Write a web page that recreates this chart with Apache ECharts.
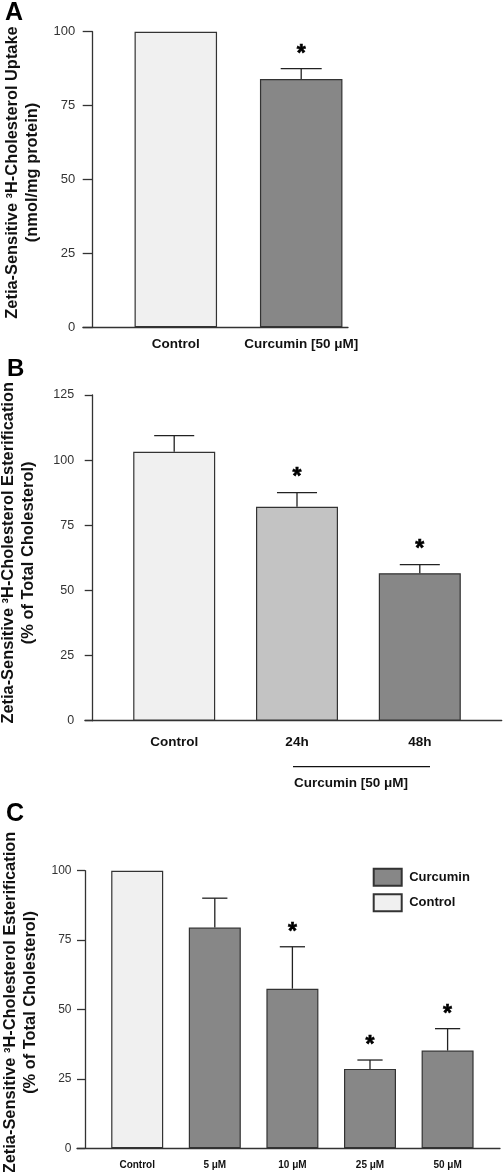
<!DOCTYPE html>
<html><head><meta charset="utf-8">
<script src="https://cdn.jsdelivr.net/npm/echarts@6/dist/echarts.min.js"></script>
<style>html,body{margin:0;padding:0;background:#fff}#c{width:504px;height:1172px}</style>
</head><body><div id="c"></div>
<script>
// ---------- data ----------
const catsA = ['Control', 'Curcumin [50 μM]'];
const meanA = [100, 84.0];
const errTopA = [null, 87.5];
const sigA = [0, 1];
const yTicksA = [0, 25, 50, 75, 100];

const catsB = ['Control', '24h', '48h'];
const meanB = [103.2, 82.1, 56.6];
const errTopB = [109.4, 87.5, 59.9];
const sigB = [0, 1, 1];
const yTicksB = [0, 25, 50, 75, 100, 125];

const catsC = ['Control', '5 μM', '10 μM', '25 μM', '50 μM'];
const controlC = [100, null, null, null, null];
const curcuminC = [null, 79.5, 57.5, 28.6, 35.2];
const errTopC = [null, 90.1, 72.6, 31.8, 43.1];
const sigC = [0, 0, 1, 1, 1];
const yTicksC = [0, 25, 50, 75, 100];

const titleA = 'Zetia-Sensitive ³H-Cholesterol Uptake\n(nmol/mg protein)';
const titleB = 'Zetia-Sensitive ³H-Cholesterol Esterification\n(% of Total Cholesterol)';
const titleC = 'Zetia-Sensitive ³H-Cholesterol Esterification\n(% of Total Cholesterol)';

// ---------- styles ----------
const FONT = '"Liberation Sans", Arial, Helvetica, sans-serif';
const LIGHT = '#f0f0f0', MID = '#c3c3c3', DARK = '#878787', EDGE = '#333';
const colorsA = [LIGHT, DARK];
const colorsB = [LIGHT, MID, DARK];

function errRender(capRatio, starSize, starGap) {
  return function (params, api) {
    const i = api.value(0);
    const base = api.coord([i, api.value(1)]);
    const top = api.coord([i, api.value(2)]);
    const half = api.size([1, 0])[0] * capRatio / 2;
    const ch = [];
    ch.push({type: 'line', shape: {x1: base[0], y1: base[1], x2: top[0], y2: top[1]}, style: {stroke: '#222', lineWidth: 1.3}});
    ch.push({type: 'line', shape: {x1: top[0] - half, y1: top[1], x2: top[0] + half, y2: top[1]}, style: {stroke: '#222', lineWidth: 1.3}});
    if (api.value(3)) {
      ch.push({type: 'text', x: top[0], y: top[1] - starGap, style: {text: '*', fontFamily: FONT, fontWeight: 'bold', fontSize: starSize, fill: '#000', stroke: '#000', lineWidth: 0.6, align: 'center', verticalAlign: 'middle'}});
    }
    return {type: 'group', children: ch};
  };
}
function errData(mean, top, sig) {
  const out = [];
  mean.forEach((m, i) => { if (top[i] != null) out.push([i, m, top[i], sig[i]]); });
  return out;
}

function frameX(gi) {
  return {gridIndex: gi, type: 'value', min: 0, max: 1, axisLine: {show: true, onZero: false, lineStyle: {color: EDGE, width: 1.3}},
    axisTick: {show: false}, axisLabel: {show: false}, splitLine: {show: false}};
}
function frameY(gi, ticks, offset, tickLen, labSize, margin, name, nameGap, pad) {
  return {gridIndex: gi, type: 'value', min: ticks[0], max: ticks[ticks.length - 1], interval: ticks[1] - ticks[0],
    offset: offset,
    axisLine: {show: true, lineStyle: {color: EDGE, width: 1.3}},
    axisTick: {show: true, length: tickLen, lineStyle: {color: EDGE, width: 1.3}},
    axisLabel: {margin: margin, fontFamily: FONT, fontSize: labSize, color: '#333'},
    splitLine: {show: false},
    name: name, nameLocation: 'middle', nameRotate: 90, nameGap: nameGap,
    nameTextStyle: {fontFamily: FONT, fontWeight: 'bold', fontSize: 16.4, color: '#111', lineHeight: 20, align: 'center', padding: pad}};
}
function barsX(gi, cats, size, margin) {
  return {gridIndex: gi, type: 'category', data: cats, axisLine: {show: false}, axisTick: {show: false},
    axisLabel: {margin: margin, fontFamily: FONT, fontWeight: 'bold', fontSize: size, color: '#111', interval: 0}};
}
function barsY(gi, ticks) {
  return {gridIndex: gi, type: 'value', min: ticks[0], max: ticks[ticks.length - 1], show: false, splitLine: {show: false}};
}

const g = (l, t, w, h) => ({left: l, top: t, width: w, height: h, outerBoundsMode: 'none', containLabel: false});

const option = {
  animation: false,
  backgroundColor: '#fff',
  grid: [
    g(83, 31.7, 265, 295.6), g(113.1, 31.7, 250.8, 295.6),
    g(85, 395, 416.7, 325.7), g(112.8, 395, 368.4, 325.7),
    g(77, 870.7, 423, 277.6), g(98.4, 870.7, 388, 277.6)
  ],
  xAxis: [
    frameX(0), barsX(1, catsA, 13.5, 10),
    frameX(2), barsX(3, catsB, 13.5, 15),
    frameX(4), barsX(5, catsC, 10, 12)
  ],
  yAxis: [
    frameY(0, yTicksA, -9.7, 10, 13, 17.5, titleA, 49, [0, 0, 0, 14]), barsY(1, yTicksA),
    frameY(2, yTicksB, -7.7, 8, 12.5, 18.5, titleB, 54, [0, 0, 0, 10]), barsY(3, yTicksB),
    frameY(4, yTicksC, -8, 8, 12, 13.5, titleC, 44, [0, 0, 0, 14]), barsY(5, yTicksC)
  ],
  legend: {
    left: 372.7, top: 867.7, padding: 0, orient: 'vertical', itemWidth: 28, itemHeight: 17, itemGap: 6.5, icon: 'rect',
    data: ['Curcumin', 'Control'],
    textStyle: {fontFamily: FONT, fontWeight: 'bold', fontSize: 13, color: '#111', padding: [0, 0, 0, 2.5]}
  },
  series: [
    {type: 'bar', xAxisIndex: 1, yAxisIndex: 1, barWidth: 82.5,
      data: meanA.map((v, i) => ({value: v, itemStyle: {color: colorsA[i]}})),
      itemStyle: {borderColor: EDGE, borderWidth: 1.2}},
    {type: 'custom', xAxisIndex: 1, yAxisIndex: 1, renderItem: errRender(0.327, 23, 14), data: errData(meanA, errTopA, sigA), z: 3},

    {type: 'bar', xAxisIndex: 3, yAxisIndex: 3, barWidth: 82,
      data: meanB.map((v, i) => ({value: v, itemStyle: {color: colorsB[i]}})),
      itemStyle: {borderColor: EDGE, borderWidth: 1.2}},
    {type: 'custom', xAxisIndex: 3, yAxisIndex: 3, renderItem: errRender(0.326, 23, 15), data: errData(meanB, errTopB, sigB), z: 3},

    {name: 'Curcumin', type: 'bar', xAxisIndex: 5, yAxisIndex: 5, barWidth: 52, barGap: '-100%',
      data: curcuminC.map(v => v == null ? '-' : v),
      itemStyle: {color: DARK, borderColor: EDGE, borderWidth: 1.2}},
    {name: 'Control', type: 'bar', xAxisIndex: 5, yAxisIndex: 5, barWidth: 52, barGap: '-100%',
      data: controlC.map(v => v == null ? '-' : v),
      itemStyle: {color: LIGHT, borderColor: EDGE, borderWidth: 1.2}},
    {type: 'custom', xAxisIndex: 5, yAxisIndex: 5, renderItem: errRender(0.325, 23, 14), data: errData(catsC.map((c, i) => curcuminC[i] != null ? curcuminC[i] : controlC[i]), errTopC, sigC), z: 3}
  ],
  graphic: [
    {type: 'text', left: 5, top: 1, style: {text: 'A', fontFamily: FONT, fontWeight: 'bold', fontSize: 25, fill: '#000'}},
    {type: 'text', left: 7, top: 357, style: {text: 'B', fontFamily: FONT, fontWeight: 'bold', fontSize: 24, fill: '#000'}},
    {type: 'text', left: 6, top: 802, style: {text: 'C', fontFamily: FONT, fontWeight: 'bold', fontSize: 25, fill: '#000'}},
    {type: 'line', shape: {x1: 293, y1: 766.7, x2: 430, y2: 766.7}, style: {stroke: '#111', lineWidth: 1.3}},
    {type: 'text', x: 351, y: 783.5, style: {text: 'Curcumin [50 μM]', fontFamily: FONT, fontWeight: 'bold', fontSize: 13.5, fill: '#111', align: 'center', verticalAlign: 'middle'}}
  ]
};

const chart = echarts.init(document.getElementById('c'), null, {renderer: 'canvas'});
chart.setOption(option);
</script>
</body></html>
